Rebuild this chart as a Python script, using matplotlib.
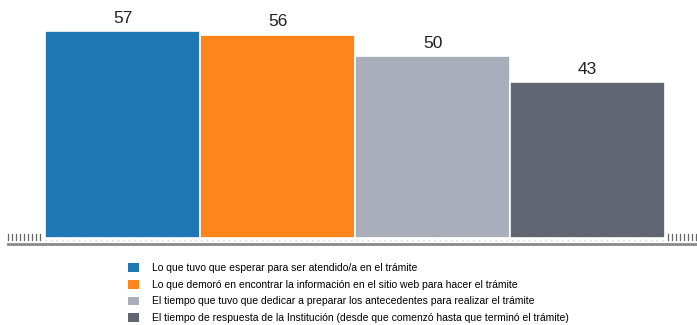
import matplotlib
matplotlib.use("Agg")
import matplotlib.pyplot as plt
from matplotlib.patches import Patch
from matplotlib.lines import Line2D

categories = [
    "Lo que tuvo que esperar para ser atendido/a en el trámite",
    "Lo que demoró en encontrar la información en el sitio web para hacer el trámite",
    "El tiempo que tuvo que dedicar a preparar los antecedentes para realizar el trámite",
    "El tiempo de respuesta de la Institución (desde que comenzó hasta que terminó el trámite)",
]
values = [57, 56, 50, 43]
colors = ["#1f77b4", "#ff851b", "#a8afbb", "#5f6672"]

W, H = 697, 325
fig = plt.figure(figsize=(W / 100, H / 100), dpi=100)
plt.rcParams["font.family"] = ["Liberation Sans", "DejaVu Sans"]

ax = fig.add_axes([45 / W, (H - 238) / H, 620 / W, 238 / H])
x = list(range(len(values)))
ax.bar(x, values, width=1.0, color=colors, edgecolor="white", linewidth=1.2)
for xi, v in zip(x, values):
    ax.text(xi, v + 1.4, str(v), ha="center", va="bottom", fontsize=12.5, color="#222222")
ax.set_xlim(-0.5, len(values) - 0.5)
ax.set_ylim(0, 65.5)
ax.axis("off")

# dotted baseline under the bars
fig.add_artist(Line2D([45 / W, 665 / W], [(H - 240) / H] * 2, color="#cfd6dc",
                      linewidth=1, linestyle=(0, (1, 3))))
# small tick dashes on both sides of the baseline
for px in list(range(8, 43, 4)) + list(range(668, 697, 4)):
    fig.add_artist(Line2D([px / W] * 2, [(H - 240) / H, (H - 234) / H],
                          color="#666666", linewidth=0.9))
# grey horizontal rule
fig.add_artist(Line2D([8 / W, 697 / W], [(H - 244) / H] * 2, color="#8a8a8a", linewidth=2))

handles = [Patch(facecolor=c, edgecolor="none") for c in colors]
fig.legend(handles, categories, loc="upper left", bbox_to_anchor=(124 / W, (H - 259) / H),
           frameon=False, fontsize=7.5, handlelength=1.0, handleheight=0.9,
           handletextpad=1.3, labelspacing=0.64, borderaxespad=0)

fig.savefig("out.png", dpi=100)
